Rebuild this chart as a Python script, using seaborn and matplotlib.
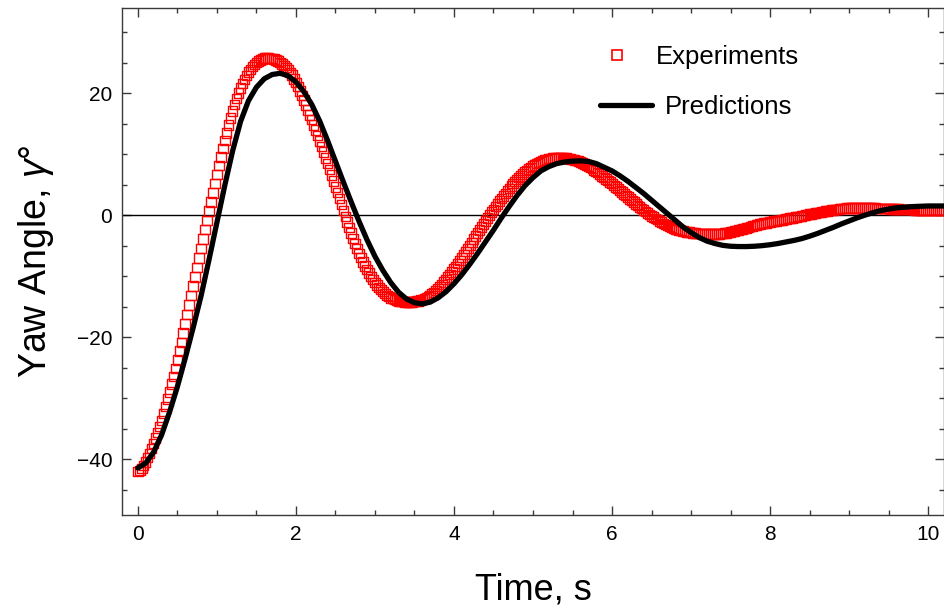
import numpy as np
import matplotlib
matplotlib.use("Agg")
import matplotlib.pyplot as plt
from matplotlib.lines import Line2D
from matplotlib.ticker import MultipleLocator
import seaborn as sns

# Measured yaw angle (deg), sampled every 0.025 s from t = 0
dt_exp = 0.025
yaw_exp = [
    -42.0, -41.8, -41.5, -41.0, -40.4, -39.7, -39.0, -38.2,
    -37.4, -36.5, -35.6, -34.6, -33.6, -32.45, -31.3, -30.1,
    -28.9, -27.65, -26.4, -25.05, -23.7, -22.25, -20.8, -19.3,
    -17.8, -16.25, -14.7, -13.15, -11.6, -10.05, -8.5, -6.95,
    -5.4, -3.85, -2.3, -0.8, 0.7, 2.2, 3.7, 5.2,
    6.7, 8.15, 9.6, 10.95, 12.3, 13.55, 14.8, 15.95,
    17.1, 18.15, 19.2, 20.05, 20.9, 21.6, 22.3, 22.9,
    23.5, 23.95, 24.4, 24.75, 25.1, 25.3, 25.5, 25.65,
    25.8, 25.8, 25.8, 25.75, 25.7, 25.6, 25.5, 25.3,
    25.1, 24.85, 24.6, 24.25, 23.9, 23.45, 23.0, 22.4,
    21.8, 21.1, 20.4, 19.65, 18.9, 18.1, 17.3, 16.5,
    15.7, 14.85, 14.0, 13.1, 12.2, 11.3, 10.4, 9.45,
    8.5, 7.55, 6.6, 5.65, 4.7, 3.75, 2.8, 1.8,
    0.8, -0.15, -1.1, -2.0, -2.9, -3.75, -4.6, -5.4,
    -6.2, -6.9, -7.6, -8.25, -8.9, -9.45, -10.0, -10.5,
    -11.0, -11.4, -11.8, -12.15, -12.5, -12.8, -13.1, -13.3,
    -13.5, -13.65, -13.8, -13.9, -14.0, -14.05, -14.1, -14.15,
    -14.2, -14.2, -14.2, -14.15, -14.1, -14.05, -14.0, -13.9,
    -13.8, -13.65, -13.5, -13.3, -13.1, -12.85, -12.6, -12.3,
    -12.0, -11.65, -11.3, -10.9, -10.5, -10.1, -9.7, -9.25,
    -8.8, -8.35, -7.9, -7.4, -6.9, -6.4, -5.9, -5.4,
    -4.9, -4.4, -3.9, -3.4, -2.9, -2.4, -1.9, -1.4,
    -0.9, -0.4, 0.1, 0.55, 1.0, 1.45, 1.9, 2.35,
    2.8, 3.2, 3.6, 4.0, 4.4, 4.8, 5.2, 5.55,
    5.9, 6.2, 6.5, 6.8, 7.1, 7.35, 7.6, 7.85,
    8.1, 8.3, 8.5, 8.65, 8.8, 8.95, 9.1, 9.2,
    9.3, 9.35, 9.4, 9.45, 9.5, 9.5, 9.5, 9.48,
    9.45, 9.4, 9.35, 9.28, 9.2, 9.1, 9.0, 8.88,
    8.75, 8.6, 8.45, 8.28, 8.1, 7.9, 7.7, 7.48,
    7.25, 7.0, 6.75, 6.5, 6.25, 6.0, 5.75, 5.48,
    5.2, 4.93, 4.65, 4.38, 4.1, 3.83, 3.55, 3.28,
    3.0, 2.73, 2.45, 2.18, 1.9, 1.65, 1.4, 1.15,
    0.9, 0.65, 0.4, 0.18, -0.05, -0.28, -0.5, -0.7,
    -0.9, -1.1, -1.3, -1.48, -1.65, -1.8, -1.95, -2.08,
    -2.2, -2.3, -2.4, -2.48, -2.55, -2.63, -2.7, -2.75,
    -2.8, -2.85, -2.9, -2.93, -2.95, -2.98, -3.0, -3.0,
    -3.0, -3.0, -3.0, -3.0, -3.0, -3.0, -3.0, -2.98,
    -2.95, -2.9, -2.85, -2.78, -2.7, -2.63, -2.55, -2.48,
    -2.4, -2.33, -2.25, -2.15, -2.05, -1.95, -1.85, -1.75,
    -1.65, -1.58, -1.5, -1.43, -1.35, -1.28, -1.2, -1.13,
    -1.05, -1.0, -0.95, -0.9, -0.85, -0.8, -0.75, -0.68,
    -0.6, -0.53, -0.45, -0.4, -0.35, -0.28, -0.2, -0.15,
    -0.1, -0.03, 0.05, 0.13, 0.2, 0.25, 0.3, 0.38,
    0.45, 0.5, 0.55, 0.63, 0.7, 0.75, 0.8, 0.85,
    0.9, 0.95, 1.0, 1.05, 1.1, 1.13, 1.15, 1.18,
    1.2, 1.23, 1.25, 1.25, 1.25, 1.25, 1.25, 1.25,
    1.25, 1.23, 1.2, 1.2, 1.2, 1.18, 1.15, 1.15,
    1.15, 1.13, 1.1, 1.1, 1.1, 1.08, 1.05, 1.05,
    1.05, 1.03, 1.0, 1.0, 1.0, 0.98, 0.95, 0.95,
    0.95, 0.93, 0.9, 0.9, 0.9, 0.88, 0.85, 0.85,
    0.85, 0.83, 0.8, 0.8, 0.8, 0.8, 0.8, 0.8,
    0.8,
]

# Model prediction (deg), every 0.1 s from t = 0
dt_pred = 0.1
yaw_pred = [
    -41.4, -40.6, -38.8, -36.0, -32.3, -28.1, -23.4, -18.4, -13.2, -7.3,
    -1.2, 4.9, 10.6, 15.4, 18.8, 21.0, 22.4, 23.1, 23.3, 22.9,
    21.9, 20.3, 18.2, 15.5, 12.3, 8.9, 5.5, 2.2, -1.0, -4.0,
    -6.7, -9.0, -11.0, -12.6, -13.7, -14.3, -14.5, -14.2, -13.5, -12.5,
    -11.2, -9.7, -8.0, -6.2, -4.3, -2.4, -0.4, 1.5, 3.3, 4.9,
    6.2, 7.3, 8.0, 8.5, 8.75, 8.9, 8.95, 8.85, 8.5, 7.9,
    7.3, 6.5, 5.6, 4.6, 3.6, 2.5, 1.4, 0.3, -0.8, -1.9,
    -2.8, -3.6, -4.2, -4.6, -4.9, -5.05, -5.1, -5.1, -5.05, -4.95,
    -4.8, -4.6, -4.35, -4.1, -3.8, -3.4, -2.95, -2.45, -1.95, -1.4,
    -0.9, -0.4, 0.05, 0.45, 0.8, 1.05, 1.25, 1.35, 1.45, 1.5,
    1.55, 1.55, 1.55,
]

series_labels = ["Experiments", "Predictions"]
x_ticks = [0, 2, 4, 6, 8, 10]
y_ticks = [-40, -20, 0, 20]

t_exp = np.arange(len(yaw_exp)) * dt_exp
t_pred = np.arange(len(yaw_pred)) * dt_pred

sns.set_theme(style="ticks")
plt.rcParams["font.family"] = ["Liberation Sans", "DejaVu Sans"]
plt.rcParams["mathtext.fontset"] = "custom"
plt.rcParams["mathtext.rm"] = "Liberation Sans"
plt.rcParams["mathtext.it"] = "Liberation Sans:italic"
plt.rcParams["text.color"] = "black"
plt.rcParams["axes.labelcolor"] = "black"
plt.rcParams["xtick.labelcolor"] = "black"
plt.rcParams["ytick.labelcolor"] = "black"

W, H = 945, 610
fig = plt.figure(figsize=(W / 100, H / 100), dpi=100)
ax = fig.add_axes([122 / W, (H - 515) / H, 822 / W, 507 / H])

frame_col = "#3a3a3a"

ax.axhline(0, color="black", lw=1.0, zorder=1)

sns.scatterplot(x=t_exp, y=yaw_exp, marker="s", s=47, color="red",
                ax=ax, zorder=2, legend=False)
pts = ax.collections[-1]
pts.set_facecolor("none")
pts.set_edgecolor("red")
pts.set_linewidth(1.0)

sns.lineplot(x=t_pred, y=yaw_pred, color="black", linewidth=3.8,
             estimator=None, sort=False, ax=ax, zorder=3, legend=False)

ax.set_xlim(-0.2, 10.2)
ax.set_ylim(-49.1, 34.0)
ax.set_xticks(x_ticks)
ax.set_yticks(y_ticks)
ax.xaxis.set_minor_locator(MultipleLocator(0.5))
ax.yaxis.set_minor_locator(MultipleLocator(5))

for side in ax.spines.values():
    side.set_color(frame_col)
    side.set_linewidth(1.0)

ax.tick_params(which="both", direction="in", top=True, right=True,
               color=frame_col, width=1.0)
ax.tick_params(which="major", length=6.5, labelsize=15, pad=7,
               labelcolor="black")
ax.tick_params(which="minor", length=3.6)

ax.set_xlabel("Time, s", fontsize=26, labelpad=21)
ax.set_ylabel(r"Yaw Angle, $\gamma$°", fontsize=27, labelpad=15)

# Two single-entry legends so each row can sit on its own
fs_leg = 18.5
exp_handle = Line2D([], [], marker="s", ls="", mfc="none", mec="red",
                    ms=7, mew=1.2)
pred_handle = Line2D([], [], color="black", lw=3.8)

leg_exp = ax.legend([exp_handle], [series_labels[0]], loc="center left",
                    bbox_to_anchor=(604 / W, 1 - 57 / H),
                    bbox_transform=fig.transFigure, frameon=False,
                    fontsize=fs_leg, handlelength=1.0, handletextpad=1.02,
                    borderpad=0, borderaxespad=0)
ax.add_artist(leg_exp)
ax.legend([pred_handle], [series_labels[1]], loc="center left",
          bbox_to_anchor=(600 / W, 1 - 107 / H),
          bbox_transform=fig.transFigure, frameon=False,
          fontsize=fs_leg, handlelength=2.02, handletextpad=0.5,
          borderpad=0, borderaxespad=0)

fig.savefig("out.png", dpi=100)
